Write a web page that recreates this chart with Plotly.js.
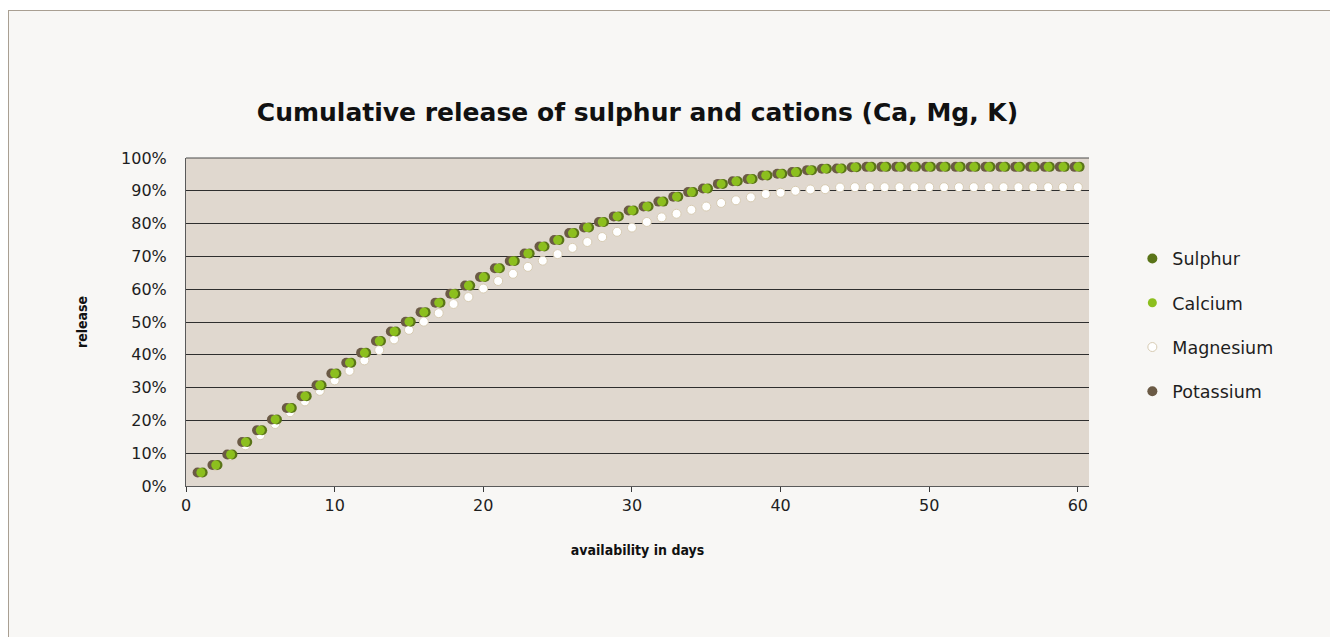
<!DOCTYPE html>
<html>
<head>
<meta charset="utf-8">
<script src="https://cdn.plot.ly/plotly-3.0.1.min.js"></script>
<style>
  html, body { margin: 0; padding: 0; background: #ffffff; width: 1330px; height: 637px; overflow: hidden; }
  #frame { position: absolute; left: 8px; top: 10px; width: 1322px; height: 627px;
           border-left: 1px solid #a99f92; border-top: 1px solid #a99f92; background: #f8f7f5; }
  #chart { width: 1321px; height: 626px; }
</style>
</head>
<body>
<div id="frame"><div id="chart"></div></div>
<script>
// Days
const days = [1,2,3,4,5,6,7,8,9,10,11,12,13,14,15,16,17,18,19,20,
  21,22,23,24,25,26,27,28,29,30,31,32,33,34,35,36,37,38,39,40,
  41,42,43,44,45,46,47,48,49,50,51,52,53,54,55,56,57,58,59,60];

// Cumulative release (%)
const sulphur = [4.1,6.4,9.6,13.4,17.0,20.3,23.8,27.4,30.7,34.3,37.6,40.6,44.2,47.1,50.1,53.0,55.9,58.6,61.1,63.7,
  66.4,68.6,70.9,73.0,75.0,77.1,78.8,80.5,82.2,84.0,85.2,86.7,88.2,89.6,90.7,92.1,92.9,93.6,94.7,95.2,
  95.7,96.3,96.7,96.8,97.2,97.3,97.3,97.3,97.3,97.3,97.3,97.3,97.3,97.3,97.3,97.3,97.3,97.3,97.3,97.3];
const calcium = [4.1,6.4,9.6,13.4,17.0,20.3,23.8,27.4,30.7,34.3,37.6,40.6,44.2,47.1,50.1,53.0,55.9,58.6,61.1,63.7,
  66.4,68.6,70.9,73.0,75.0,77.1,78.8,80.5,82.2,84.0,85.2,86.7,88.2,89.6,90.7,92.1,92.9,93.6,94.7,95.2,
  95.7,96.3,96.7,96.8,97.2,97.3,97.3,97.3,97.3,97.3,97.3,97.3,97.3,97.3,97.3,97.3,97.3,97.3,97.3,97.3];
const magnesium = [4.0,6.1,9.3,12.4,15.5,18.9,22.5,25.8,29.0,32.2,35.1,38.3,41.4,44.7,47.6,50.1,52.7,55.5,57.6,60.2,
  62.5,64.7,66.8,68.7,70.7,72.6,74.4,75.9,77.5,78.8,80.5,81.9,83.0,84.2,85.2,86.3,87.1,88.0,89.0,89.4,
  90.0,90.4,90.5,91.0,91.1,91.1,91.1,91.1,91.1,91.1,91.1,91.1,91.1,91.1,91.1,91.1,91.1,91.1,91.1,91.1];
const potassium = [4.1,6.4,9.6,13.4,17.0,20.3,23.8,27.4,30.7,34.3,37.6,40.6,44.2,47.1,50.1,53.0,55.9,58.6,61.1,63.7,
  66.4,68.6,70.9,73.0,75.0,77.1,78.8,80.5,82.2,84.0,85.2,86.7,88.2,89.6,90.7,92.1,92.9,93.6,94.7,95.2,
  95.7,96.3,96.7,96.8,97.2,97.3,97.3,97.3,97.3,97.3,97.3,97.3,97.3,97.3,97.3,97.3,97.3,97.3,97.3,97.3];

const xTicks = [0,10,20,30,40,50,60];
const yTicks = [0,10,20,30,40,50,60,70,80,90,100];

const FONT = '"DejaVu Sans", sans-serif';
const FONT_C = '"DejaVu Sans Condensed", "DejaVu Sans", sans-serif';
const xr = [0, 60.75];

const traces = [
  { name: 'Magnesium', x: days, y: magnesium, type: 'scatter', mode: 'markers',
    xaxis: 'x', yaxis: 'y', legendrank: 3, legendgroup: 'mg',
    marker: { color: '#ffffff', size: 9, line: { color: '#d8ccb4', width: 1 } } },
  { name: 'Potassium', x: days, y: potassium, type: 'scatter', mode: 'markers',
    xaxis: 'x2', yaxis: 'y', legendrank: 4, legendgroup: 'k',
    marker: { color: '#6b5a45', size: 10 } },
  { name: 'Sulphur', x: days, y: sulphur, type: 'scatter', mode: 'markers',
    xaxis: 'x3', yaxis: 'y', legendrank: 1, legendgroup: 's',
    marker: { color: '#5a7418', size: 10 } },
  { name: 'Calcium', x: days, y: calcium, type: 'scatter', mode: 'markers',
    xaxis: 'x4', yaxis: 'y', legendrank: 2, legendgroup: 'ca',
    marker: { color: '#8cbf1e', size: 9 } }
];

const hiddenAxis = (r) => ({ overlaying: 'x', range: r, visible: false, showgrid: false, zeroline: false, fixedrange: true });

const layout = {
  width: 1321, height: 626,
  paper_bgcolor: '#f8f7f5',
  plot_bgcolor: '#e0d8cf',
  margin: { l: 177, r: 241, t: 147, b: 151, pad: 0 },
  font: { family: FONT, size: 16, color: '#1e1e1e' },
  title: {
    text: 'Cumulative release of sulphur and cations (Ca, Mg, K)',
    font: { family: FONT, size: 25, color: '#111111', weight: 'bold' },
    x: 0.5, xref: 'paper', xanchor: 'center',
    y: 0.838, yref: 'container', yanchor: 'middle'
  },
  xaxis: {
    range: xr, tickvals: xTicks, ticktext: xTicks.map(String),
    showgrid: false, zeroline: false,
    showline: true, linecolor: '#5a5a5a', linewidth: 1,
    ticks: 'outside', ticklen: 5, tickcolor: '#3a3a3a', tickwidth: 1,
    tickfont: { family: FONT, size: 16, color: '#1e1e1e' },
    title: { text: 'availability in days', standoff: 30,
             font: { family: FONT_C, size: 14, color: '#111111', weight: 'bold' } },
    fixedrange: true
  },
  xaxis2: hiddenAxis([xr[0] + 0.22, xr[1] + 0.22]),
  xaxis3: hiddenAxis([xr[0] - 0.12, xr[1] - 0.12]),
  xaxis4: hiddenAxis(xr),
  yaxis: {
    range: [0, 100], tickvals: yTicks, ticktext: yTicks.map(v => v + '%'),
    showgrid: true, gridcolor: '#2e2e2e', gridwidth: 1,
    zeroline: false, showline: true, linecolor: '#5a5a5a', linewidth: 1,
    mirror: false, ticks: '', ticklabelstandoff: 15,
    tickfont: { family: FONT, size: 16, color: '#1e1e1e' },
    title: { text: 'release', standoff: 30,
             font: { family: FONT_C, size: 14, color: '#111111', weight: 'bold' } },
    fixedrange: true
  },
  shapes: [
    { type: 'line', xref: 'paper', yref: 'paper', x0: 0, x1: 1, y0: 1, y1: 1,
      line: { color: '#4a4a4a', width: 1 } }
  ],
  showlegend: true,
  legend: {
    x: 1.048, xanchor: 'left', y: 0.748, yanchor: 'top',
    bgcolor: 'rgba(0,0,0,0)', borderwidth: 0,
    font: { family: FONT, size: 17.5, color: '#1e1e1e' },
    tracegroupgap: 18.5, itemwidth: 30, traceorder: 'grouped'
  }
};

Plotly.newPlot('chart', traces, layout, { displayModeBar: false, staticPlot: true });
</script>
</body>
</html>
